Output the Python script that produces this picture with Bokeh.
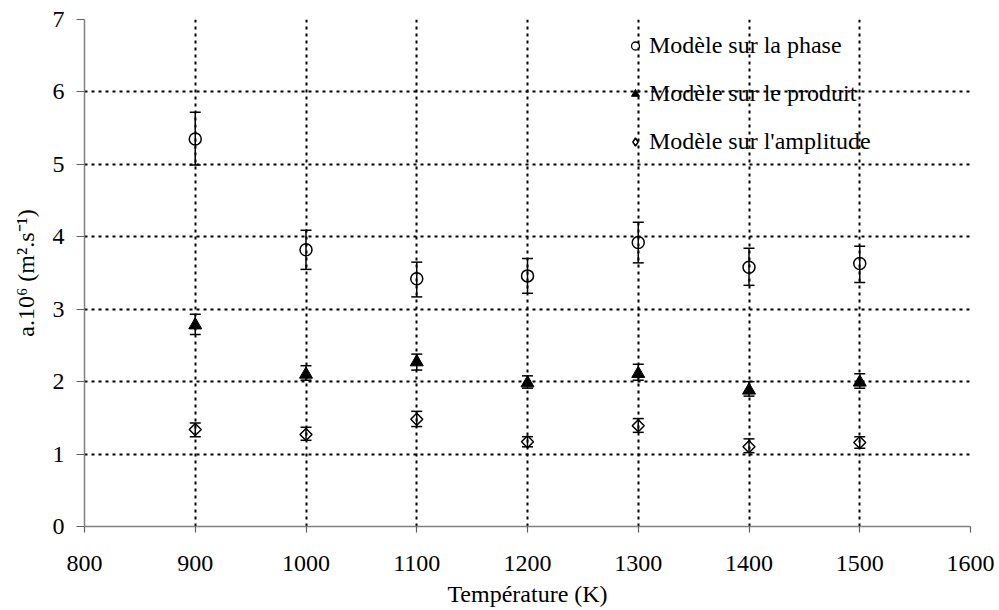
import numpy as np
from bokeh.plotting import figure
from bokeh.models import (ColumnDataSource, Whisker, TeeHead, FixedTicker, Legend, LegendItem, Range1d)
from bokeh.embed import file_html
from bokeh.resources import INLINE

# ---- data ----
temperatures = [900, 1000, 1100, 1200, 1300, 1400, 1500]

phase = [5.35, 3.82, 3.42, 3.46, 3.92, 3.58, 3.63]
phase_low = [4.99, 3.55, 3.17, 3.22, 3.64, 3.33, 3.37]
phase_high = [5.72, 4.09, 3.65, 3.70, 4.20, 3.84, 3.87]

produit = [2.78, 2.10, 2.27, 1.98, 2.11, 1.88, 1.99]
produit_low = [2.65, 2.02, 2.16, 1.91, 2.02, 1.80, 1.91]
produit_high = [2.93, 2.22, 2.38, 2.08, 2.24, 2.00, 2.11]

amplitude = [1.34, 1.27, 1.48, 1.17, 1.39, 1.10, 1.16]
amplitude_low = [1.24, 1.19, 1.38, 1.10, 1.30, 1.02, 1.08]
amplitude_high = [1.43, 1.37, 1.59, 1.24, 1.49, 1.21, 1.24]

series_labels = ["Modèle sur la phase", "Modèle sur le produit", "Modèle sur l'amplitude"]
x_ticks = [800, 900, 1000, 1100, 1200, 1300, 1400, 1500, 1600]
y_ticks = [0, 1, 2, 3, 4, 5, 6, 7]
x_label = "Température (K)"
y_label = "a.10\u2076 (m\u00b2.s\u207b\u00b9)"

FONT = "Liberation Serif"

p = figure(width=998, height=609, output_backend="svg", toolbar_location=None,
           x_range=Range1d(800, 1600), y_range=Range1d(0, 7),
           min_border_left=84, min_border_right=28, min_border_top=19, min_border_bottom=82)
p.outline_line_color = None
p.background_fill_color = "white"
p.border_fill_color = "white"

# grids
p.xgrid.ticker = FixedTicker(ticks=x_ticks[1:])
p.ygrid.ticker = FixedTicker(ticks=y_ticks[1:])
for g in (p.xgrid, p.ygrid):
    g.grid_line_color = "black"
    g.grid_line_width = 2
    g.grid_line_dash = "3 4"

# axes
p.xaxis.ticker = FixedTicker(ticks=x_ticks)
p.yaxis.ticker = FixedTicker(ticks=y_ticks)
for ax in (p.xaxis, p.yaxis):
    ax.axis_line_color = "#808080"
    ax.axis_line_width = 1.5
    ax.major_tick_line_color = "#606060"
    ax.major_tick_line_width = 1.2
    ax.minor_tick_line_color = None
    ax.major_label_text_font = FONT
    ax.major_label_text_font_size = "24px"
    ax.major_label_text_color = "black"
    ax.axis_label_text_font = FONT
    ax.axis_label_text_font_size = "24px"
    ax.axis_label_text_font_style = "normal"
    ax.axis_label_text_color = "black"
p.xaxis.axis_label = x_label
p.yaxis.axis_label = y_label
p.xaxis.major_tick_out = 6
p.xaxis.major_tick_in = 0
p.xaxis.major_label_standoff = 23
p.xaxis.axis_label_standoff = 7
p.yaxis.major_tick_out = 8
p.yaxis.major_tick_in = 0
p.yaxis.major_label_standoff = 12
p.yaxis.axis_label_standoff = 11

# error bars
def add_err(x, low, high):
    src = ColumnDataSource(dict(x=x, lower=low, upper=high))
    w = Whisker(base="x", lower="lower", upper="upper", source=src, dimension="height",
                line_color="black", line_width=1.5,
                lower_head=TeeHead(size=11, line_color="black", line_width=1.5),
                upper_head=TeeHead(size=11, line_color="black", line_width=1.5))
    p.add_layout(w)

add_err(temperatures, phase_low, phase_high)
add_err(temperatures, produit_low, produit_high)
add_err(temperatures, amplitude_low, amplitude_high)

r1 = p.scatter(temperatures, phase, marker="circle", size=12, line_color="black",
               line_width=1.5, fill_alpha=0)
r2 = p.scatter(temperatures, produit, marker="triangle", size=13, line_color="black",
               fill_color="black", line_width=1)
r3 = p.scatter(temperatures, amplitude, marker="square", angle=np.pi / 4, size=8.5,
               line_color="black", line_width=1.5, fill_alpha=0)

# legend-only glyphs (NaN data, never drawn in the plot area)
nan = [float("nan")]
l1 = p.scatter(nan, nan, marker="circle", size=11, line_color="black", line_width=1.3, fill_alpha=0)
l2 = p.scatter(nan, nan, marker="triangle", size=12, line_color="black", fill_color="black", line_width=1)
l3 = p.scatter(nan, nan, marker="diamond", size=14, line_color="black", line_width=1.5, fill_alpha=0)

legend = Legend(items=[LegendItem(label=series_labels[0], renderers=[l1]),
                       LegendItem(label=series_labels[1], renderers=[l2]),
                       LegendItem(label=series_labels[2], renderers=[l3])],
                location=(541, 371), orientation="vertical",
                border_line_color=None, background_fill_alpha=0,
                padding=5, spacing=21, glyph_width=20, glyph_height=27,
                label_height=27, label_standoff=4,
                label_text_font=FONT, label_text_font_size="24px", label_text_color="black")
p.add_layout(legend)

open("out.html", "w").write(file_html(p, INLINE))
